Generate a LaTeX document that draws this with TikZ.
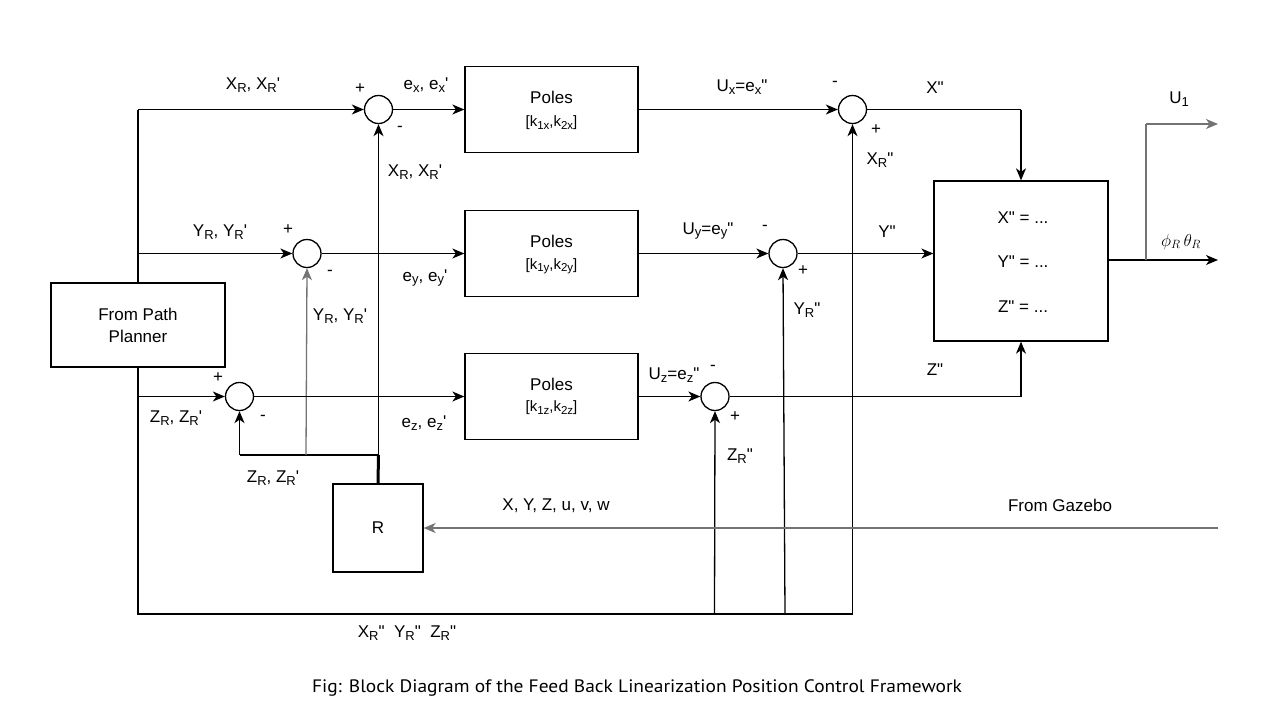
\documentclass[tikz,border=0pt]{standalone}
\usepackage{fontspec}
\newfontfamily\arialf{Liberation Sans}
\newfontfamily\capf{PT Sans}
\usetikzlibrary{arrows.meta}
\newcommand{\sbx}[1]{\raisebox{-0.3ex}{\fontsize{13}{13}\selectfont #1}}
\newcommand{\sbs}[1]{\raisebox{-0.3ex}{\fontsize{11.5}{12}\selectfont #1}}
\begin{document}
\begin{tikzpicture}[x=1pt,y=-1pt,
  font=\arialf\fontsize{17}{19}\selectfont,
  ln/.style={line width=1.3pt},
  gln/.style={line width=1.3pt, draw=black!55},
  arr/.style={ln,-{Stealth[length=12pt,width=10pt,inset=3.5pt]}},
  garr/.style={gln,-{Stealth[length=12pt,width=10pt,inset=3.5pt]}},
  blk/.style={draw, line width=1.3pt, inner sep=0},
  sumn/.style={circle, draw, line width=1.3pt, minimum size=28pt, inner sep=0},
  lbl/.style={inner sep=0},
  small/.style={font=\arialf\fontsize{15}{17}\selectfont}]
\useasboundingbox (0,0) rectangle (1280,716);
\fill[white] (0,0) rectangle (1280,716);

% blocks
\node[blk, minimum width=174pt, minimum height=84pt, align=center] (pp) at (138,325) {From Path\\[3pt]Planner};
\node[blk, minimum width=173pt, minimum height=86pt] (px) at (551.5,109.5) {};
\node[blk, minimum width=173pt, minimum height=86pt] (py) at (551.5,253.5) {};
\node[blk, minimum width=173pt, minimum height=86pt] (pz) at (551.5,396.5) {};
\node[blk, minimum width=174pt, minimum height=160pt] (main) at (1021,261) {};
\node[blk, minimum width=90pt, minimum height=88pt] (rb) at (378,528) {R};

\node[lbl] (pxa) at (551.5,97) {Poles};
\node[lbl,small] (pxb) at (551.5,123) {[k\sbs{1x},k\sbs{2x}]};
\node[lbl] (pya) at (551.5,241) {Poles};
\node[lbl,small] (pyb) at (551.5,266) {[k\sbs{1y},k\sbs{2y}]};
\node[lbl] (pza) at (551.5,384) {Poles};
\node[lbl,small] (pzb) at (551.5,408) {[k\sbs{1z},k\sbs{2z}]};

\node[lbl] (m1) at (1023,218) {X" = ...};
\node[lbl] (m2) at (1023,262) {Y" = ...};
\node[lbl] (m3) at (1023,307) {Z" = ...};

% summing junctions
\node[sumn] (sx1) at (378.5,109.5) {};
\node[sumn] (sy1) at (307,253.5) {};
\node[sumn] (sz1) at (239.5,396.5) {};
\node[sumn] (sx2) at (852.5,109.5) {};
\node[sumn] (sy2) at (783,253.5) {};
\node[sumn] (sz2) at (715,396.5) {};

% coordinates
\coordinate (tl) at (138,109.5);
\coordinate (ly) at (138,253.5);
\coordinate (lz) at (138,396.5);
\coordinate (bl) at (138,614);
\coordinate (br) at (852.5,614);
\coordinate (bz) at (714.5,614);
\coordinate (by) at (785,614);
\coordinate (fb) at (378.5,455);
\coordinate (fz) at (239.5,455);
\coordinate (fy) at (306,455);
\coordinate (xc) at (1021,109.5);
\coordinate (zc) at (1021,396.5);
\coordinate (ob) at (1146,260);
\coordinate (ot) at (1146,124);
\coordinate (oe) at (1218,124);
\coordinate (oo) at (1218,260);
\coordinate (gz) at (1218,528);

% left feed
\draw[ln] (pp.north) -- (tl);
\draw[arr] (tl) -- (sx1.west);
\draw[arr] (ly) -- (sy1.west);
\draw[arr] (lz) -- (sz1.west);
\draw[ln] (pp.south) -- (bl) -- (br);
\draw[arr] (br) -- (sx2.south);
\draw[arr] (by) -- (sy2.south);
\draw[arr] (bz) -- (sz2.south);

% R feedback
\draw[line width=3pt] (rb.north) -- (fb);
\draw[arr] (fb) -- (sx1.south);
\draw[ln] (fb) -- (fz);
\draw[arr] (fz) -- (sz1.south);
\draw[garr] (fy) -- (sy1.south);
\draw[garr] (gz) -- (rb.east);

% forward paths
\draw[arr] (sx1.east) -- (px.west |- sx1.east);
\draw[arr] (sy1.east) -- (py.west |- sy1.east);
\draw[arr] (sz1.east) -- (pz.west |- sz1.east);
\draw[arr] (px.east |- sx2.west) -- (sx2.west);
\draw[arr] (py.east |- sy2.west) -- (sy2.west);
\draw[arr] (pz.east |- sz2.west) -- (sz2.west);
\draw[ln] (sx2.east) -- (xc);
\draw[arr] (xc) -- (main.north);
\draw[arr] (sy2.east) -- (sy2.east -| main.west);
\draw[ln] (sz2.east) -- (zc);
\draw[arr] (zc) -- (main.south);
\draw[arr] (main.east |- oo) -- (oo);
\draw[gln] (ob) -- (ot);
\draw[garr] (ot) -- (oe);

% labels
\node[lbl] (l1) at (253,85) {X\sbx{R}, X\sbx{R}'};
\node[lbl] (l2) at (360,89) {+};
\node[lbl] (l3) at (400,129) {-};
\node[lbl] (l4) at (426,85) {e\sbx{x}, e\sbx{x}'};
\node[lbl] (l5) at (415,172) {X\sbx{R}, X\sbx{R}'};
\node[lbl] (l6) at (742,87) {U\sbx{x}=e\sbx{x}"};
\node[lbl] (l7) at (835,84) {-};
\node[lbl] (l8) at (876,130) {+};
\node[lbl] (l9) at (880,160) {X\sbx{R}"};
\node[lbl] (l10) at (935,88) {X"};
\node[lbl] (l11) at (1179,99) {U\sbx{1}};
\node[lbl, font=\fontsize{18}{20}\selectfont] (l12) at (1181,242) {$\phi_R\,\theta_R$};

\node[lbl] (l13) at (220,232) {Y\sbx{R}, Y\sbx{R}'};
\node[lbl] (l14) at (288,230) {+};
\node[lbl] (l15) at (330,273) {-};
\node[lbl] (l16) at (340,316) {Y\sbx{R}, Y\sbx{R}'};
\node[lbl] (l17) at (425,278) {e\sbx{y}, e\sbx{y}'};
\node[lbl] (l18) at (708,231) {U\sbx{y}=e\sbx{y}"};
\node[lbl] (l19) at (765,228) {-};
\node[lbl] (l20) at (803,271) {+};
\node[lbl] (l21) at (807,310) {Y\sbx{R}"};
\node[lbl] (l22) at (887,232) {Y"};

\node[lbl] (l23) at (218,378) {+};
\node[lbl] (l24) at (263,418) {-};
\node[lbl] (l25) at (176,418) {Z\sbx{R}, Z\sbx{R}'};
\node[lbl] (l26) at (273,478) {Z\sbx{R}, Z\sbx{R}'};
\node[lbl] (l27) at (424,423) {e\sbx{z}, e\sbx{z}'};
\node[lbl] (l28) at (674,375) {U\sbx{z}=e\sbx{z}"};
\node[lbl] (l29) at (713,368) {-};
\node[lbl] (l30) at (735,417) {+};
\node[lbl] (l31) at (740,456) {Z\sbx{R}"};
\node[lbl] (l32) at (935,370) {Z"};

\node[lbl] (l33) at (556,506) {X, Y, Z, u, v, w};
\node[lbl] (l34) at (1060,505) {From Gazebo};
\node[lbl] (l35) at (407,633) {X\sbx{R}"\ \ Y\sbx{R}"\ \ Z\sbx{R}"};

\node[lbl, font=\capf\fontsize{18}{20}\selectfont] (cap) at (637,688) {\scalebox{1.08}[1]{Fig: Block Diagram of the Feed Back Linearization Position Control Framework}};
\end{tikzpicture}
\end{document}
